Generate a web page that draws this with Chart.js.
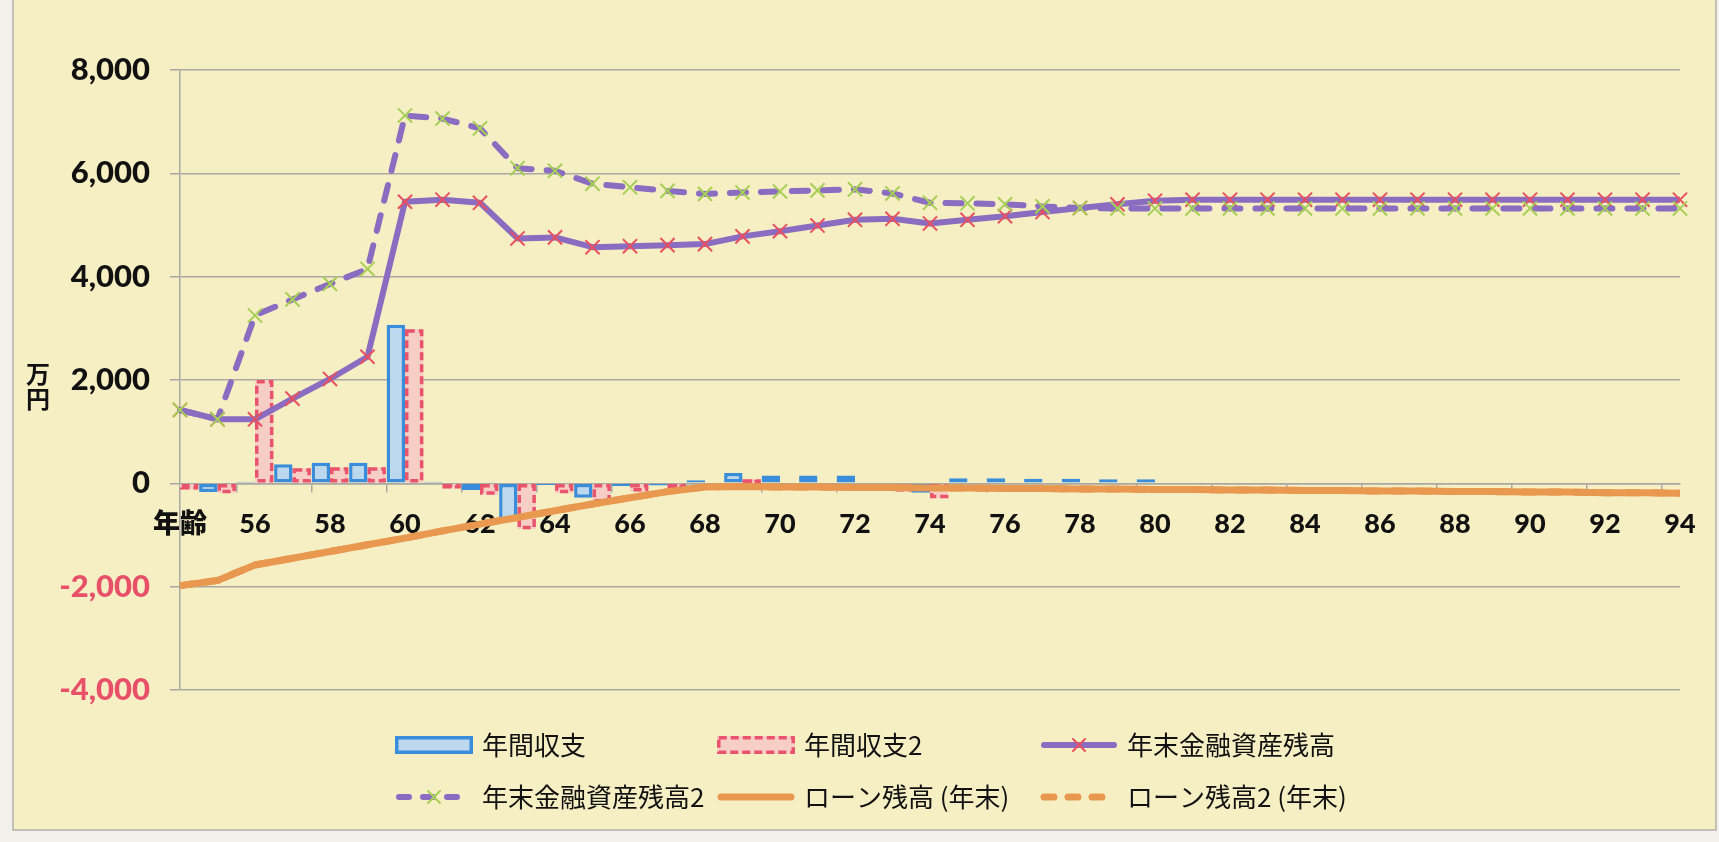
<!DOCTYPE html>
<html>
<head>
<meta charset="utf-8">
<script src="https://cdn.jsdelivr.net/npm/chart.js@4.4.1/dist/chart.umd.min.js"></script>
<style>
  html, body { margin: 0; padding: 0; background: #f1f0ea; }
  canvas { display: block; }
</style>
</head>
<body>
<canvas id="chart" width="1719" height="842"></canvas>
<script>
//=[ Data ]=====================================================================

const ages = [
  "年齢", "55", "56", "57", "58", "59", "60", "61", "62", "63", "64",
  "65", "66", "67", "68", "69", "70", "71", "72", "73", "74",
  "75", "76", "77", "78", "79", "80", "81", "82", "83", "84",
  "85", "86", "87", "88", "89", "90", "91", "92", "93", "94",
];

const annualBalance = [
  -100, -170, 30, 370, 400, 400, 3070, 30, -130, -720, -30,
  -280, -50, -40, 60, 200, 150, 150, 150, 0, -180,
  100, 100, 90, 90, 80, 80, 0, 0, 0, 0,
  0, 0, 0, 0, 0, 0, 0, 0, 0, 0,
];

const annualBalance2 = [
  -120, -190, 2000, 290, 310, 310, 2980, -100, -220, -890, -190,
  -370, -160, -80, -100, 80, 0, 0, 0, -160, -290,
  0, 0, 0, 0, 0, 0, 0, 0, 0, 0,
  0, 0, 0, 0, 0, 0, 0, 0, 0, 0,
];

const assets = [
  1420, 1240, 1240, 1640, 2020, 2450, 5450, 5490, 5430, 4740, 4760,
  4570, 4590, 4610, 4630, 4780, 4880, 4990, 5100, 5120, 5030,
  5100, 5170, 5250, 5330, 5400, 5470, 5490, 5490, 5490, 5490,
  5490, 5490, 5490, 5490, 5490, 5490, 5490, 5490, 5490, 5490,
];

const assets2 = [
  1420, 1240, 3250, 3560, 3860, 4150, 7120, 7060, 6870, 6100, 6050,
  5800, 5730, 5660, 5600, 5630, 5650, 5670, 5690, 5610, 5430,
  5420, 5400, 5360, 5330, 5320, 5320, 5320, 5320, 5320, 5320,
  5320, 5320, 5320, 5320, 5320, 5320, 5320, 5320, 5320, 5320,
];

const loan = [
  -1980, -1880, -1580, -1450, -1320, -1190, -1060, -920, -790, -660, -530,
  -400, -280, -160, -70, -60, -70, -70, -80, -80, -90,
  -90, -100, -100, -110, -110, -120, -120, -130, -130, -140,
  -140, -150, -150, -160, -160, -170, -170, -180, -180, -190,
];

const loan2 = loan.slice();

//=[ Styles ]===================================================================

const FONT = "Lato, 'Noto Sans CJK JP', sans-serif";
const CJK = "'Noto Sans CJK JP', sans-serif";
const gridColor = "#a9a8a2";
const negColor = "#e8506a";
const purple = "#8a6cc0";
const orange = "#e8984f";

const legendCols = [395, 717, 1040];
const legendRows = [745, 797];
const swatchW = 78;

function drawCross(ctx, x, y, r, color) {
  ctx.save();
  ctx.setLineDash([]);
  ctx.strokeStyle = color;
  ctx.lineWidth = 2;
  ctx.beginPath();
  ctx.moveTo(x - r, y - r);
  ctx.lineTo(x + r, y + r);
  ctx.moveTo(x - r, y + r);
  ctx.lineTo(x + r, y - r);
  ctx.stroke();
  ctx.restore();
}

//=[ Plugins ]==================================================================

const paper = {
  id: "paper",
  beforeDraw(chart) {
    const ctx = chart.ctx;
    ctx.save();
    ctx.fillStyle = "#f1f0ea";
    ctx.fillRect(0, 0, chart.width, chart.height);
    ctx.fillStyle = "#f6efc4";
    ctx.fillRect(13, -5, 1703, 835);
    ctx.strokeStyle = "#b4b2aa";
    ctx.lineWidth = 1.5;
    ctx.strokeRect(13, -5, 1703, 835);
    ctx.restore();
  },
};

const dashedBars = {
  id: "dashedBars",
  afterDatasetDraw(chart, args) {
    const ds = chart.data.datasets[args.index];
    if (!ds.dashedBorder) return;
    const ctx = chart.ctx;
    const area = chart.chartArea;
    ctx.save();
    ctx.beginPath();
    ctx.rect(area.left, area.top, area.width, area.height);
    ctx.clip();
    ctx.strokeStyle = ds.dashedBorder;
    ctx.lineWidth = 3.5;
    ctx.setLineDash([8, 4]);
    args.meta.data.forEach((bar) => {
      const { x, y, base, width } = bar.getProps(["x", "y", "base", "width"], true);
      const h = Math.abs(base - y);
      if (h < 1) return;
      const top = Math.min(y, base);
      ctx.strokeRect(x - width / 2 + 1.75, top + 1.75, width - 3.5, Math.max(h - 3.5, 0.5));
    });
    ctx.restore();
  },
};

const extras = {
  id: "extras",
  afterDraw(chart) {
    const ctx = chart.ctx;
    const y2000 = chart.scales.y.getPixelForValue(2000);

    // unit label, written vertically
    ctx.save();
    ctx.fillStyle = "#111";
    ctx.font = "bold 24px " + CJK;
    ctx.textAlign = "center";
    ctx.textBaseline = "middle";
    ctx.fillText("万", 38, y2000 - 6);
    ctx.fillText("円", 38, y2000 + 19);
    ctx.restore();

    // legend
    chart.data.datasets.forEach((ds, i) => {
      const x = legendCols[i % 3];
      const y = legendRows[Math.floor(i / 3)];
      ctx.save();
      if (ds.type === "bar") {
        ctx.fillStyle = ds.backgroundColor;
        ctx.fillRect(x, y - 9, swatchW, 18);
        ctx.lineWidth = 3.5;
        ctx.strokeStyle = ds.dashedBorder || ds.borderColor;
        ctx.setLineDash(ds.dashedBorder ? [8, 4] : []);
        ctx.strokeRect(x + 1.75, y - 7.25, swatchW - 3.5, 14.5);
      } else {
        ctx.strokeStyle = ds.borderColor;
        ctx.lineWidth = ds.borderWidth;
        ctx.lineCap = "round";
        ctx.setLineDash(ds.borderDash ? [10, 14] : []);
        ctx.beginPath();
        ctx.moveTo(x + 4, y);
        ctx.lineTo(x + swatchW - 4, y);
        ctx.stroke();
        if (ds.pointRadius > 0) {
          drawCross(ctx, x + swatchW / 2, y, 6, ds.pointBorderColor);
        }
      }
      ctx.setLineDash([]);
      ctx.fillStyle = "#111";
      ctx.font = "26px " + CJK;
      ctx.textBaseline = "middle";
      ctx.fillText(ds.label, x + swatchW + 9, y);
      ctx.restore();
    });
  },
};

//=[ Chart ]====================================================================

new Chart(document.getElementById("chart"), {
  data: {
    labels: ages,
    datasets: [
      {
        type: "bar",
        label: "年間収支",
        data: annualBalance,
        backgroundColor: "#bcd8ee",
        borderColor: "#3a8ddb",
        borderWidth: 3.5,
        borderSkipped: false,
        categoryPercentage: 0.98,
        barPercentage: 1,
        clip: 0,
        order: 5,
      },
      {
        type: "bar",
        label: "年間収支2",
        data: annualBalance2,
        backgroundColor: "#f6cec4",
        borderWidth: 0,
        dashedBorder: "#e9536b",
        categoryPercentage: 0.98,
        barPercentage: 1,
        clip: 0,
        order: 6,
      },
      {
        type: "line",
        label: "年末金融資産残高",
        data: assets,
        borderColor: purple,
        borderWidth: 6,
        borderJoinStyle: "round",
        pointStyle: "crossRot",
        pointRadius: 10,
        pointBorderWidth: 2,
        pointBorderColor: "#e8505f",
        pointBackgroundColor: "#e8505f",
        tension: 0,
        order: 4,
      },
      {
        type: "line",
        label: "年末金融資産残高2",
        data: assets2,
        borderColor: purple,
        borderWidth: 6,
        borderDash: [16, 15],
        borderCapStyle: "round",
        borderJoinStyle: "round",
        pointStyle: "crossRot",
        pointRadius: 10,
        pointBorderWidth: 2,
        pointBorderColor: "#a5cf55",
        pointBackgroundColor: "#a5cf55",
        tension: 0,
        order: 3,
      },
      {
        type: "line",
        label: "ローン残高 (年末)",
        data: loan,
        borderColor: orange,
        borderWidth: 7,
        borderJoinStyle: "round",
        pointRadius: 0,
        tension: 0,
        order: 2,
      },
      {
        type: "line",
        label: "ローン残高2 (年末)",
        data: loan2,
        borderColor: orange,
        borderWidth: 7,
        borderDash: [14, 12],
        pointRadius: 0,
        tension: 0,
        order: 7,
      },
    ],
  },
  options: {
    responsive: false,
    animation: false,
    devicePixelRatio: 1,
    layout: {
      padding: { left: 0, right: 39, top: 70, bottom: 152 },
    },
    plugins: {
      legend: { display: false },
      tooltip: { enabled: false },
    },
    scales: {
      x: {
        type: "category",
        offset: false,
        position: { y: 0 },
        grid: {
          drawOnChartArea: false,
          drawTicks: true,
          tickLength: 8,
          lineWidth: 1.5,
          tickColor: (c) => (c.index % 2 ? "rgba(0,0,0,0)" : gridColor),
        },
        border: { display: true, color: gridColor, width: 1.5 },
        ticks: {
          autoSkip: false,
          maxRotation: 0,
          padding: 17,
          color: "#111",
          font: { family: FONT, size: 27, weight: "900" },
          callback: (value, index) => (index % 2 ? "" : ages[index]),
        },
      },
      y: {
        min: -4000,
        max: 8000,
        ticks: {
          stepSize: 2000,
          padding: 20,
          color: (c) => (c.tick.value < 0 ? negColor : "#111"),
          font: { family: FONT, size: 31, weight: "900" },
          callback: (value) => value.toLocaleString("en-US"),
        },
        grid: { color: gridColor, lineWidth: 1.5, tickLength: 10 },
        border: { display: true, color: gridColor, width: 1.5 },
        afterFit(scale) {
          scale.width = 180;
        },
      },
    },
  },
  plugins: [paper, dashedBars, extras],
});
</script>
</body>
</html>
